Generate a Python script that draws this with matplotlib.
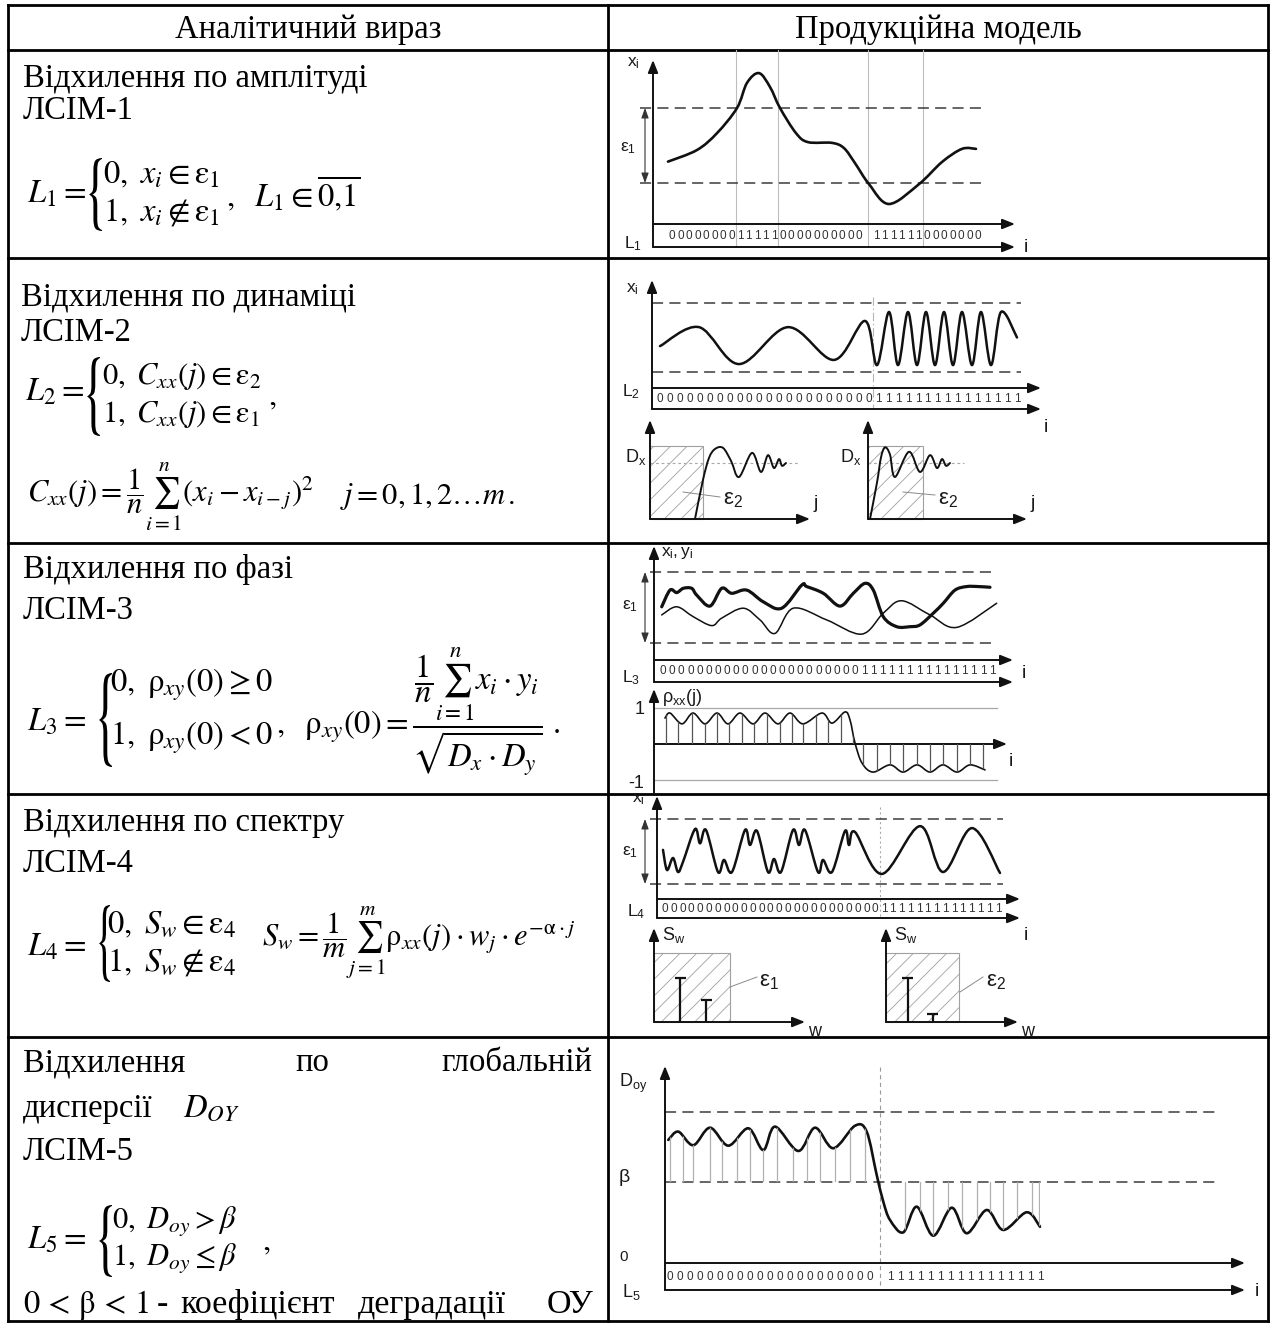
import numpy as np
import matplotlib
matplotlib.use('Agg')
import matplotlib.pyplot as plt
from matplotlib.path import Path
from matplotlib.patches import PathPatch, Rectangle
from matplotlib.textpath import TextPath
from matplotlib.font_manager import FontProperties
from matplotlib.transforms import Affine2D

plt.rcParams['font.family'] = ['Liberation Serif', 'DejaVu Serif']
plt.rcParams['mathtext.fontset'] = 'stix'
plt.rcParams['lines.scale_dashes'] = False
plt.rcParams['hatch.linewidth'] = 0.6
plt.rcParams['hatch.color'] = '#a0a0a0'

W, H = 1271, 1324
FS = 23.5
SANS = 'Liberation Sans'

# ---------------- table text ----------------
headers = ['Аналітичний вираз', 'Продукційна модель']
titles = ['Відхилення по амплітуді', 'Відхилення по динаміці',
          'Відхилення по фазі', 'Відхилення по спектру']
codes = ['ЛСІМ-1', 'ЛСІМ-2', 'ЛСІМ-3', 'ЛСІМ-4', 'ЛСІМ-5']

# ---------------- logical sequences in the bands ----------------
L1_bits = '0' * 8 + '1' * 5 + '0' * 10 + ' ' + '1' * 6 + '0' * 7
L2_bits = '0' * 22 + '1' * 15
L3_bits = '0' * 22 + '1' * 15
L4_bits = '0' * 25 + '1' * 14
L5_bits = '0' * 21 + ' ' + '1' * 16

# ---------------- curves (x in steps along i, y in threshold units) ----------------
# row 1: amplitude, thresholds at +-1
amp_x = [1.5, 4.4, 6.4, 8.4, 9.4, 10.6, 11.7, 12.7, 14.3, 15.5, 17.9, 19.1, 20.2,
         21.6, 23.6, 26.6, 28.9, 30.9, 32.3]
amp_y = [-0.43, -0.12, 0.33, 1.0, 1.67, 1.93, 1.56, 1.0, 0.33, 0.09, 0.07, -0.07, -0.47,
         -1.03, -1.56, -1.03, -0.44, -0.09, -0.09]

# row 2: dynamics (slow then fast oscillation)
dyn_x = [0.8, 4.7, 8.7, 13.6, 18.2, 21.3, 22.5, 23.7, 24.6, 25.6, 26.5, 27.4, 28.3,
         29.2, 30.1, 31.0, 32.0, 32.9, 33.9, 34.9, 36.5]
dyn_y = [-0.25, 0.30, -0.77, 0.30, -0.65, 0.48, -0.80, 0.74, -0.80, 0.74, -0.80, 0.74, -0.80,
         0.74, -0.80, 0.74, -0.80, 0.74, -0.80, 0.74, 0.0]
# correlation-type functions C_xx(j), D_x level = 1
cxx1_x = [4.5, 5.3, 5.9, 6.5, 7.3, 8.1, 8.9, 10.2, 11.1, 11.8, 12.4, 12.9, 13.2, 13.6]
cxx1_y = [0.0, 0.70, 1.09, 1.25, 1.27, 1.04, 0.75, 1.18, 0.84, 1.14, 0.91, 1.07, 0.95, 1.0]
cxx2_x = [0.2, 0.9, 1.3, 1.7, 2.2, 2.7, 4.1, 5.2, 6.2, 6.9, 7.4, 7.8, 8.2]
cxx2_y = [0.0, 0.65, 1.1, 1.28, 1.15, 0.75, 1.2, 0.84, 1.14, 0.91, 1.07, 0.95, 1.0]

# row 3: phase, x_i (thick) and y_i (thin)
xi_x = [0.77, 1.6, 2.27, 2.93, 3.77, 4.27, 5.6, 6.77, 7.77, 9.27, 10.93, 12.77, 14.77,
        15.27, 16.93, 18.6, 19.93, 21.1, 21.93, 22.93, 24.27, 25.6, 26.6, 27.93, 28.93,
        30.1, 31.27, 32.43, 33.6]
xi_y = [0.02, 0.49, 0.42, 0.54, 0.54, 0.35, 0.04, 0.54, 0.40, 0.49, 0.16, -0.02, 0.63,
        0.59, 0.40, 0.04, 0.40, 0.68, 0.49, -0.26, -0.54, -0.54, -0.49, -0.16, 0.12,
        0.49, 0.59, 0.59, 0.57]
yi_x = [0.77, 2.27, 3.93, 5.77, 6.77, 8.93, 10.6, 12.1, 13.93, 17.27, 20.77, 22.93,
        24.77, 27.6, 30.27, 34.27]
yi_y = [-0.21, 0.02, -0.26, -0.51, -0.30, -0.02, -0.35, -0.73, -0.02, -0.35, -0.75, -0.16,
        0.19, -0.21, -0.56, 0.12]
# rho_xx(j)
rho_x = [1.1, 1.6, 2.8, 3.9, 5.1, 6.3, 7.4, 8.6, 9.9, 11.1, 12.4, 13.6, 14.9, 16.8, 17.8,
         19.1, 19.6, 20.1, 20.8, 21.9, 23.6, 24.9, 26.3, 27.6, 28.9, 30.3, 31.6, 33.1]
rho_y = [0.72, 0.86, 0.56, 0.86, 0.56, 0.86, 0.56, 0.86, 0.56, 0.86, 0.56, 0.86, 0.56, 0.86,
         0.58, 0.89, 0.67, 0.03, -0.53, -0.78, -0.58, -0.78, -0.58, -0.78, -0.58, -0.78,
         -0.58, -0.72]
rho_j = [1.15, 2.4, 3.8, 5.1, 6.3, 7.5, 8.8, 10.0, 11.3, 12.6, 13.8, 14.9, 16.2, 17.4, 18.7,
         19.9, 20.9, 22.3, 23.6, 24.9, 26.3, 27.6, 28.9, 30.3, 31.6, 32.9]

# row 4: spectrum
spec_x = [0.6, 1.0, 1.6, 2.1, 2.6, 3.8, 4.3, 4.9, 6.1, 6.7, 7.5, 8.8, 9.3, 10.0, 11.1, 11.7,
          12.4, 13.6, 14.2, 14.8, 16.1, 16.6, 17.5, 18.8, 19.2, 19.8, 22.5, 26.3, 28.6,
          31.5, 34.3]
spec_y = [0.05, -0.57, -0.2, -0.63, -0.32, 0.69, 0.25, 0.66, -0.63, -0.26, -0.63, 0.66, 0.2,
          0.63, -0.63, -0.23, -0.63, 0.66, 0.2, 0.66, -0.63, -0.26, -0.63, 0.63, 0.2, 0.60,
          -0.69, 0.78, -0.63, 0.72, -0.66]
# S_w spectra (eps level = 1)
sw1_w = [2.6, 5.2]
sw1_s = [0.64, 0.32]
sw2_w = [2.2, 4.7]
sw2_s = [0.64, 0.12]

# row 5: global dispersion, upper dashed = 1, beta = 0.536
beta = 0.536
doy_x = [0.33, 1.33, 2.83, 4.5, 6.33, 8.33, 9.83, 11.0, 13.33, 15.0, 16.83, 19.0, 20.17,
         21.17, 21.83, 22.5, 23.83, 25.17, 26.83, 28.67, 30.17, 32.17, 33.83, 36.17, 37.5]
doy_y = [0.815, 0.87, 0.78, 0.896, 0.777, 0.892, 0.748, 0.903, 0.742, 0.896, 0.76, 0.909,
         0.87, 0.583, 0.406, 0.285, 0.203, 0.373, 0.181, 0.366, 0.197, 0.351, 0.219, 0.336,
         0.24]
doy_i = [0.5, 1.8, 2.8, 4.5, 5.7, 7.2, 8.5, 9.8, 11.2, 12.8, 14.2, 15.5, 17.0, 18.5, 20.0,
         24.0, 25.5, 26.8, 28.3, 29.7, 31.2, 32.5, 33.8, 35.2, 36.7, 37.4]

# ---------------- figure ----------------
fig = plt.figure(figsize=(W / 100, H / 100), dpi=100)
ax = fig.add_axes([0, 0, 1, 1])
ax.set_xlim(0, W)
ax.set_ylim(H, 0)
ax.axis('off')


def panel(ox, oy, sx, sy):
    a = fig.add_axes([0, 0, 1, 1])
    a.set_xlim(-ox / sx, (W - ox) / sx)
    a.set_ylim((oy - H) / sy, oy / sy)
    a.set_autoscale_on(False)
    a.axis('off')
    return a


def smooth(xs, ys):
    p = np.column_stack([xs, ys]).astype(float)
    n = len(p)
    verts = [p[0]]
    cds = [Path.MOVETO]
    for i in range(n - 1):
        a, b, c, d = p[max(i - 1, 0)], p[i], p[i + 1], p[min(i + 2, n - 1)]
        verts += [b + (c - a) / 6, c - (d - b) / 6, c]
        cds += [Path.CURVE4] * 3
    return verts, cds


def curve(a, xs, ys, lw=1.8, color='#111'):
    v, c = smooth(xs, ys)
    a.add_patch(PathPatch(Path(v, c), fill=False, lw=lw, ec=color,
                          joinstyle='round', capstyle='round'))


def stems_to_curve(a, xs, ys, base, pos, color, lw):
    v, c = smooth(xs, ys)
    v = [(xs[0], base)] + v + [(xs[-1], base), (xs[0], base)]
    c = [Path.MOVETO, Path.LINETO] + c[1:] + [Path.LINETO, Path.CLOSEPOLY]
    lc = a.vlines(pos, base - 5, base + 5, colors=color, lw=lw)
    lc.set_clip_path(Path(v, c), a.transData)


def line(x0, y0, x1, y1, **kw):
    ax.plot([x0, x1], [y0, y1], **kw)


def arrow(x0, y0, x1, y1, lw=1.4, color='#111'):
    ax.annotate('', xy=(x1, y1), xytext=(x0, y0),
                arrowprops=dict(arrowstyle='-|>,head_length=0.75,head_width=0.3',
                                lw=lw, color=color, shrinkA=0, shrinkB=0))


def darrow(x, y0, y1):
    ax.annotate('', xy=(x, y1), xytext=(x, y0),
                arrowprops=dict(arrowstyle='<|-|>,head_length=0.6,head_width=0.22',
                                lw=0.8, color='#333', shrinkA=0, shrinkB=0))


def dashed(x0, x1, y):
    line(x0, y, x1, y, color='#3c3c3c', lw=1.1, dashes=(8, 4.5))


def lab(x, y, s, size=12.5, ha='center', va='center'):
    ax.text(x, y, s, fontsize=size, family=SANS, ha=ha, va=va, color='#1a1a1a')


def bits(s, x0, pitch, y):
    for k, ch in enumerate(s):
        if ch != ' ':
            ax.text(x0 + k * pitch, y, ch, fontsize=8.5, family=SANS,
                    ha='center', va='center', color='#333')


def switches(s, x0, pitch):
    idx = [k for k, ch in enumerate(s) if ch != ' ']
    return [x0 + (a + b) / 2 * pitch for a, b in zip(idx[:-1], idx[1:]) if s[a] != s[b]]


def eps_box(x, y, w, h):
    ax.add_patch(Rectangle((x, y), w, h, fill=False, ec='#a0a0a0', lw=0.8, hatch='//'))


def T(x, y, s, ha='left', va='baseline', size=FS):
    ax.text(x, y, s, fontsize=size, ha=ha, va=va)


def M(x, y, s, ha='left', va='center', size=FS):
    ax.text(x, y, s, fontsize=size, ha=ha, va=va)


def brace(x0, x1, ytop, ybot):
    tp = TextPath((0, 0), '{', size=100, prop=FontProperties(family='STIXGeneral'))
    bb = tp.get_extents()
    tr = (Affine2D().translate(-bb.x0, -bb.y0)
          .scale((x1 - x0) / bb.width, -(ybot - ytop) / bb.height)
          .translate(x0, ybot))
    ax.add_patch(PathPatch(tr.transform_path(tp), fc='k', ec='none'))


# ---------------- table grid ----------------
row_y = [5, 50, 258, 543, 794, 1037, 1321]
col_x = [8, 608, 1268]
for y in row_y:
    line(col_x[0], y, col_x[-1], y, color='k', lw=2.0, solid_capstyle='projecting')
for x in col_x:
    line(x, row_y[0], x, row_y[-1], color='k', lw=2.0, solid_capstyle='projecting')

T(308, 38, headers[0], ha='center')
T(938, 38, headers[1], ha='center')

# ---------------- left column ----------------
T(23, 87, titles[0]); T(23, 119, codes[0])
M(27, 194, r'$L_1 =$')
brace(89, 102, 158, 231)
M(103, 175, r'$0,\ x_i \in \mathrm{ε}_1$')
M(103, 212, r'$1,\ x_i \notin \mathrm{ε}_1$')
M(226, 194, r'$,\ \ L_1 \in \overline{0{,}1}$')

T(21, 305, titles[1]); T(21, 341, codes[1])
M(25, 392, r'$L_2 =$')
brace(87, 100, 357, 436)
M(102, 376, r'$0,\ C_{xx}(j) \in \mathrm{ε}_2$', size=22)
M(102, 414, r'$1,\ C_{xx}(j) \in \mathrm{ε}_1$', size=22)
M(268, 397, r'$,$')
M(27, 497, r'$C_{xx}(j) = \dfrac{1}{n}\sum_{i=1}^{n}\left(x_i - x_{i-j}\right)^2$', size=22)
M(340, 497, r'$j = 0,1,2\ldots m\,.$', size=22)

T(23, 578, titles[2]); T(23, 619, codes[2])
M(27, 722, r'$L_3 =$')
brace(99, 112, 673, 767)
M(110, 685, r'$0,\ \mathrm{ρ}_{xy}(0) \geq 0$')
M(110, 738, r'$1,\ \mathrm{ρ}_{xy}(0) < 0$')
M(276, 712, r'$,\ \ \mathrm{ρ}_{xy}(0) = \dfrac{\dfrac{1}{n}\sum_{i=1}^{n} x_i \cdot y_i}'
            r'{\sqrt{D_{x}\cdot D_{y}}}\ .$')

T(23, 831, titles[3]); T(23, 872, codes[3])
M(27, 947, r'$L_4 =$')
brace(99, 110, 905, 982)
M(107, 924, r'$0,\ S_w \in \mathrm{ε}_4$')
M(107, 962, r'$1,\ S_w \notin \mathrm{ε}_4$')
M(262, 943, r'$S_w = \dfrac{1}{m}\sum_{j=1}^{m}\mathrm{ρ}_{xx}(j)\cdot w_j \cdot e^{-\mathrm{α}\cdot j}$',
  size=22)

T(23, 1071, 'Відхилення'); T(312, 1071, 'по', ha='center'); T(592, 1071, 'глобальній', ha='right')
T(23, 1117, 'дисперсії'); M(183, 1108, r'$D_{OY}$')
T(23, 1160, codes[4])
M(27, 1240, r'$L_5 =$')
brace(99, 112, 1205, 1277)
M(112, 1222, r'$0,\ D_{oy} > \beta$', size=22)
M(112, 1259, r'$1,\ D_{oy} \leq \beta$', size=22)
M(262, 1242, r'$,$')
M(23, 1305, r'$0\,<\,\mathrm{β}\,<\,1$')
T(157, 1313, '-', size=24.5)
T(180, 1313, 'коефіцієнт', size=24.5)
T(358, 1313, 'деградації', size=24.5)
T(593, 1313, 'ОУ', ha='right', size=24.5)

# ---------------- row 1 model ----------------
for x in switches(L1_bits, 672, 8.5):
    line(x, 50, x, 247, color='#bdbdbd', lw=0.8)
dashed(640, 986, 108); dashed(640, 986, 183)
darrow(645, 108, 183)
arrow(653, 247, 653, 60)
arrow(653, 224, 1015, 224); arrow(653, 247, 1015, 247)
bits(L1_bits, 672, 8.5, 236)
lab(633, 63, r'$\mathregular{x_i}$'); lab(628, 148, r'$\mathregular{ε_1}$')
lab(633, 244, r'$\mathregular{L_1}$'); lab(1026, 248, 'i', size=14)
p1 = panel(653, 145.5, 10, 37.5)
curve(p1, amp_x, amp_y, lw=1.9)

# ---------------- row 2 model ----------------
for x in switches(L2_bits, 660, 9.92):
    line(x, 297, x, 409, color='#b5b5b5', lw=0.8, dashes=(6, 2, 1, 2))
dashed(652, 1021, 303); dashed(652, 1021, 372)
arrow(652, 409, 652, 280)
arrow(652, 388, 1041, 388); arrow(652, 409, 1041, 409)
bits(L2_bits, 660, 9.92, 399)
lab(632, 289, r'$\mathregular{x_i}$'); lab(631, 392, r'$\mathregular{L_2}$')
lab(1046, 428, 'i', size=14)
p2 = panel(652, 337.5, 10, 34.5)
curve(p2, dyn_x, dyn_y, lw=1.8)

for ox, box_w, dot_end, xend, lx, ex, lead in [
        (650, 53, 798, 810, 636, 733, (683, 492, 720, 497)),
        (868, 55, 964, 1027, 851, 948, (903, 492, 935, 495))]:
    eps_box(ox, 446, box_w, 73)
    line(ox, 463, dot_end, 463, color='#a8a8a8', lw=0.8, dashes=(2, 2))
    arrow(ox, 519, ox, 420)
    arrow(ox, 519, xend, 519)
    lab(lx, 457, r'$\mathregular{D_x}$', size=13)
    lab(ex, 500, r'$\mathregular{ε_2}$', size=16)
    line(lead[0], lead[1], lead[2], lead[3], color='#8a8a8a', lw=0.7)
    lab(xend + 6, 503, 'j', size=14)
pa = panel(650, 519, 10, 56)
curve(pa, cxx1_x, cxx1_y, lw=1.4)
pb = panel(868, 519, 10, 56)
curve(pb, cxx2_x, cxx2_y, lw=1.4)

# ---------------- row 3 model ----------------
dashed(650, 997, 572); dashed(650, 997, 643)
darrow(645, 572, 643)
arrow(654, 682, 654, 546)
arrow(654, 660, 1013, 660); arrow(654, 682, 1013, 682)
bits(L3_bits, 663, 9.14, 671)
lab(661, 553, r'$\mathregular{x_i, y_i}$', ha='left')
lab(630, 606, r'$\mathregular{ε_1}$'); lab(631, 678, r'$\mathregular{L_3}$')
lab(1024, 673, 'i', size=14)
p3 = panel(654, 607.5, 10, 35.5)
curve(p3, yi_x, yi_y, lw=1.1)
curve(p3, xi_x, xi_y, lw=2.3)

line(654, 708, 997, 708, color='#a8a8a8', lw=0.9)
line(654, 780, 997, 780, color='#a8a8a8', lw=0.9)
arrow(654, 793, 654, 689)
arrow(654, 744, 1007, 744)
lab(640, 709, '1', size=13); lab(636, 783, '-1', size=13)
lab(662, 697, r'$\mathregular{ρ_{xx}(j)}$', ha='left', size=13)
lab(1011, 762, 'i', size=14)
p3r = panel(654, 744, 10, 36)
stems_to_curve(p3r, rho_x, rho_y, 0.0, rho_j, '#555555', 0.9)
curve(p3r, rho_x, rho_y, lw=1.2)

# ---------------- row 4 model ----------------
for x in switches(L4_bits, 665, 8.76):
    line(x, 807, x, 918, color='#a8a8a8', lw=0.8, dashes=(1.5, 2))
dashed(650, 1003, 819); dashed(650, 1003, 884)
darrow(645, 819, 884)
arrow(657, 918, 657, 796)
arrow(657, 899, 1020, 899); arrow(657, 918, 1020, 918)
bits(L4_bits, 665, 8.76, 909)
lab(638, 799, r'$\mathregular{x_i}$'); lab(630, 852, r'$\mathregular{ε_1}$')
lab(636, 912, r'$\mathregular{L_4}$'); lab(1026, 935, 'i', size=14)
p4 = panel(657, 851.5, 10, 32.5)
curve(p4, spec_x, spec_y, lw=1.8)

for ox, box_w, xend, ex, eps, lead, w_s, s_s in [
        (654, 76, 805, 769, r'$\mathregular{ε_1}$', (730, 987, 757, 977), sw1_w, sw1_s),
        (886, 73, 1018, 996, r'$\mathregular{ε_2}$', (960, 992, 983, 977), sw2_w, sw2_s)]:
    eps_box(ox, 953, box_w, 69)
    arrow(ox, 1022, ox, 928)
    arrow(ox, 1022, xend, 1022)
    lab(ox + 8, 935, r'$\mathregular{S_w}$', ha='left', size=13)
    lab(xend + 10, 1031, 'w', size=13)
    lab(ex, 981, eps, size=16)
    line(lead[0], lead[1], lead[2], lead[3], color='#8a8a8a', lw=0.7)
    ps = panel(ox, 1022, 10, 69)
    ps.vlines(w_s, 0, s_s, colors='#111', lw=1.6)
    ps.hlines(s_s, np.array(w_s) - 0.55, np.array(w_s) + 0.55, colors='#111', lw=1.6)

# ---------------- row 5 model ----------------
for x in switches(L5_bits, 670, 10.0):
    line(x, 1067, x, 1290, color='#9a9a9a', lw=0.8, dashes=(3, 2.5))
dashed(665, 1215, 1112); dashed(665, 1215, 1182)
arrow(665, 1290, 665, 1066)
arrow(665, 1263, 1245, 1263); arrow(665, 1290, 1245, 1290)
bits(L5_bits, 670, 10.0, 1277)
lab(633, 1083, r'$\mathregular{D_{oy}}$', size=13); lab(624, 1178, 'β', size=14)
lab(624, 1257, '0', size=11); lab(631, 1292, r'$\mathregular{L_5}$', size=13)
lab(1257, 1292, 'i', size=14)
p5 = panel(665, 1263, 10, 151)
stems_to_curve(p5, doy_x, doy_y, beta, doy_i, '#b0b0b0', 0.9)
curve(p5, doy_x, doy_y, lw=1.9)

fig.savefig('out.png', dpi=100)
